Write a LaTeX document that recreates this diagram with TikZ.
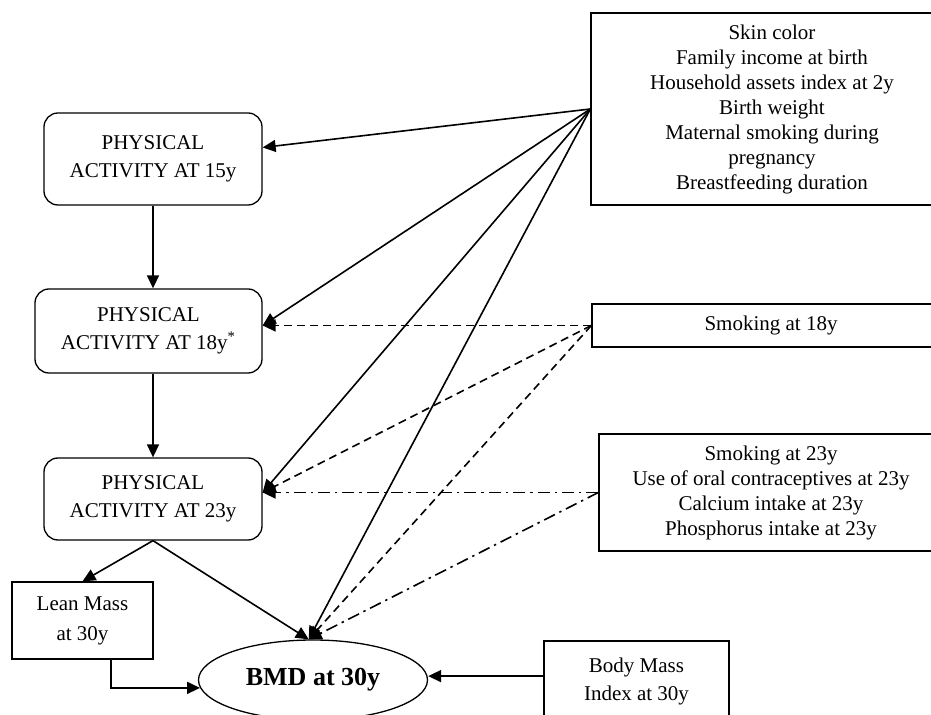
\documentclass[tikz,border=0pt]{standalone}
\usepackage{fontspec}
\setmainfont{Liberation Serif}
\usetikzlibrary{arrows.meta,shapes.geometric}
\begin{document}
\begin{tikzpicture}[x=0.5pt,y=-0.5pt,
  box/.style={draw, line width=0.65pt, align=center, inner sep=0pt, font=\fontsize{10.5}{14}\selectfont},
  rbox/.style={box, rounded corners=7pt},
  lbox/.style={box, font=\fontsize{10.5}{12.5}\selectfont},
  arr/.style={-{Triangle[length=6.5pt,width=6pt]}, line width=0.8pt},
  dsh/.style={arr, dash pattern=on 4pt off 2.5pt},
  dd/.style={arr, dash pattern=on 6pt off 2.5pt on 1.2pt off 2.5pt},
]
\useasboundingbox (0,0) rectangle (931,715);
\clip (0,0) rectangle (931,715);

\node[lbox, minimum width=181pt, minimum height=96pt] (conf) at (772,109)
  {Skin color\\Family income at birth\\Household assets index at 2y\\Birth weight\\Maternal smoking during\\pregnancy\\Breastfeeding duration};
\node[box, minimum width=179pt, minimum height=21.5pt] (s18) at (771,325.5) {Smoking at 18y};
\node[lbox, minimum width=172pt, minimum height=58.5pt] (s23) at (771,492.5)
  {Smoking at 23y\\Use of oral contraceptives at 23y\\Calcium intake at 23y\\Phosphorus intake at 23y};

\node[rbox, minimum width=109pt, minimum height=46pt] (pa15) at (153,159) {PHYSICAL\\ACTIVITY AT 15y};
\node[rbox, minimum width=113.5pt, minimum height=42pt] (pa18) at (148.5,331) {PHYSICAL\\ACTIVITY AT 18y\textsuperscript{*}};
\node[rbox, minimum width=109pt, minimum height=41pt] (pa23) at (153,499) {PHYSICAL\\ACTIVITY AT 23y};
\node[box, minimum width=70.5pt, minimum height=38.5pt, font=\fontsize{10.5}{15}\selectfont] (lean) at (82.5,620.5) {Lean Mass\\at 30y};
\node[box, minimum width=92.5pt, minimum height=40pt] (bmi) at (636.5,681) {Body Mass\\Index at 30y};
\node[draw, ellipse, line width=0.65pt, inner sep=0pt, minimum width=114.5pt, minimum height=40pt,
  font=\fontsize{13}{15}\selectfont\bfseries] (bmd) at (313,680) {BMD at 30y};

\coordinate (p18) at (s18.west -| pa18.east);
\coordinate (p23) at (s23.west -| pa23.east);
\coordinate (top) at (bmd.96);

\draw[arr] (conf.west) -- (pa15.6);
\draw[arr] (conf.west) -- (p18);
\draw[arr] (conf.west) -- (p23);
\draw[arr] (conf.west) -- (top);
\draw[dsh] (s18.west) -- (p18);
\draw[dsh] (s18.west) -- (p23);
\draw[dsh] (s18.west) -- (top);
\draw[dd] (s23.west) -- (p23);
\draw[dd] (s23.west) -- (top);
\draw[arr] (pa15.south) -- (pa15.south |- pa18.north);
\draw[arr] (pa23.north |- pa18.south) -- (pa23.north);
\draw[arr] (pa23.south) -- (lean.north);
\draw[arr] (pa23.south) -- (top);
\draw[arr] (lean.-54) |- (bmd.184);
\draw[arr] (bmi.177) -- (bmi.177 -| bmd.east);
\end{tikzpicture}
\end{document}
